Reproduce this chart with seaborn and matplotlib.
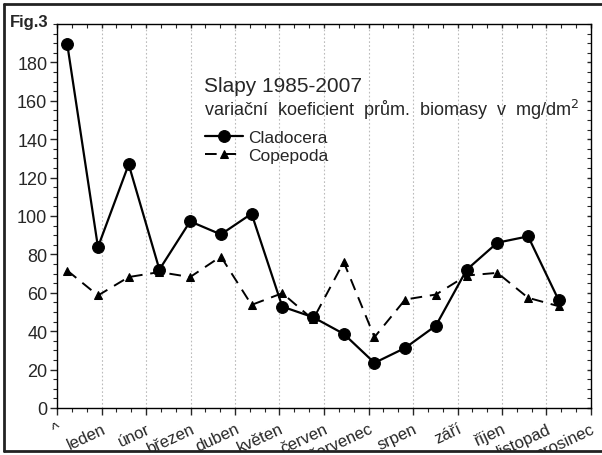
import numpy as np
import pandas as pd
import matplotlib
matplotlib.use("Agg")
import matplotlib.pyplot as plt
from matplotlib.lines import Line2D
from matplotlib.patches import Rectangle
from matplotlib.ticker import MultipleLocator
import seaborn as sns

# ---- data ----
day = [7, 28, 49, 70, 91, 112, 133, 154, 175, 196, 217, 238, 259, 280, 301, 322, 343]
cladocera = [189.5, 83.8, 126.9, 72.1, 97.2, 90.4, 101.2, 52.8, 47.3, 38.6, 23.5, 31.3, 42.9, 72.0, 86.1, 89.4, 56.0]
copepoda = [71.6, 58.6, 68.2, 70.8, 68.2, 78.9, 53.7, 59.8, 46.1, 76.0, 36.9, 56.5, 59.1, 69.0, 70.4, 57.4, 53.0]
month_labels = ["^", "leden", "únor", "březen", "duben", "květen", "červen",
                "červenec", "srpen", "září", "říjen", "listopad", "prosinec"]
month_ticks = [0, 30.42, 60.83, 91.25, 121.67, 152.08, 182.5, 212.92, 243.33, 273.75, 304.17, 334.58, 365]

df = pd.DataFrame({"day": day, "Cladocera": cladocera, "Copepoda": copepoda})

sns.set_style("ticks")
plt.rcParams["font.family"] = ["Liberation Sans", "DejaVu Sans"]

fig = plt.figure(figsize=(6.02, 4.56), dpi=100)
ax = fig.add_axes([57/602, 1 - 409/456, 534/602, 384/456])

sns.lineplot(data=df, x="day", y="Cladocera", ax=ax, color="black", lw=1.6,
             marker="o", markersize=8.5, markeredgecolor="black", label="Cladocera")
sns.lineplot(data=df, x="day", y="Copepoda", ax=ax, color="black", lw=1.4,
             linestyle=(0, (6, 4)), marker="^", markersize=5.5, markeredgecolor="black",
             label="Copepoda")

ax.set_xlim(0, 365)
ax.set_ylim(0, 200)
ax.set_xlabel("")
ax.set_ylabel("")

ax.set_xticks(month_ticks)
ax.set_xticklabels(month_labels, rotation=25, ha="right", rotation_mode="anchor", fontsize=12)
ax.xaxis.set_minor_locator(MultipleLocator(365/36))
ax.set_yticks(np.arange(0, 181, 20))
ax.yaxis.set_minor_locator(MultipleLocator(5))
ax.tick_params(axis="y", which="major", labelsize=13, length=5, width=1, pad=2, direction="out")
ax.tick_params(axis="y", which="minor", length=3, width=0.8, direction="out")
ax.tick_params(axis="x", which="major", length=5, width=1, pad=4, direction="out")
ax.tick_params(axis="x", which="minor", length=3, width=0.8, direction="out")
ax.tick_params(top=True, right=True, which="both", labeltop=False, labelright=False)
# top/right ticks inward
for t in ax.xaxis.get_major_ticks() + ax.xaxis.get_minor_ticks():
    t.tick2line.set_marker(3)  # TICKDOWN
    t.tick2line.set_markersize(3)
for t in ax.yaxis.get_major_ticks() + ax.yaxis.get_minor_ticks():
    t.tick2line.set_marker(0)  # TICKLEFT
    t.tick2line.set_markersize(3)

ax.grid(axis="x", which="major", color="#bbbbbb", linestyle=(0, (1.5, 2)), lw=0.8)
ax.grid(axis="y", visible=False)
for s in ax.spines.values():
    s.set_linewidth(1.0)
    s.set_color("black")

ax.text(0.275, 0.841, "Slapy 1985-2007", transform=ax.transAxes, fontsize=15,
        va="center", ha="left")
ax.text(0.275, 0.779, "variační  koeficient  prům.  biomasy  v  mg/dm$^2$", transform=ax.transAxes,
        fontsize=13, va="center", ha="left")
leg = ax.legend(loc="upper left", bbox_to_anchor=(0.277, 0.724), frameon=False,
                fontsize=12.5, handlelength=2.2, handletextpad=0.3, labelspacing=0.15,
                borderpad=0, borderaxespad=0)

fig.text(10/602, 1 - 22/456, "Fig.3", fontsize=12, fontweight="bold", va="center", ha="left",
         bbox=dict(facecolor="white", edgecolor="none", pad=1.5))

# figure border
fig.add_artist(Rectangle((0, 0), 1, 3.5/456, transform=fig.transFigure,
                         facecolor="white", edgecolor="none", zorder=10))
for (xs, ys) in [((4/602, 4/602), (1 - 452/456, 1 - 5/456)),
                 ((4/602, 1.0), (1 - 5/456, 1 - 5/456)),
                 ((4/602, 1.0), (1 - 452/456, 1 - 452/456))]:
    fig.add_artist(Line2D(xs, ys, transform=fig.transFigure, color="#222222", lw=2, zorder=11))

fig.savefig("out.png", dpi=100)
